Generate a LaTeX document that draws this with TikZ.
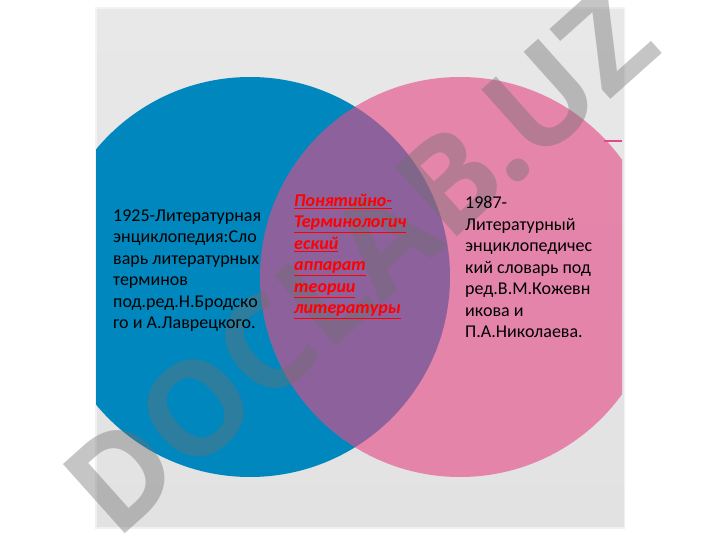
\documentclass[tikz,border=0pt]{standalone}
\usepackage{fontspec}
\setmainfont{Carlito}
\newfontfamily\markfont{Open Sans}
\usetikzlibrary{positioning}
\definecolor{panelgray}{RGB}{226,226,226}
\definecolor{paneltop}{RGB}{232,232,232}
\definecolor{circblue}{RGB}{0,136,190}
\definecolor{circpink}{RGB}{229,74,134}
\definecolor{marktone}{RGB}{110,110,110}

\begin{document}
\begin{tikzpicture}[x=1pt,y=-1pt,
    body/.style={font=\fontsize{18}{21.5}\selectfont, align=left, anchor=north west, inner sep=0pt},
    keytext/.style={body, text=red, font=\fontsize{18}{21.5}\selectfont\bfseries\itshape}]
  \useasboundingbox (0,0) rectangle (720,540);
  \fill[white] (0,0) rectangle (720,540);
  \shade[top color=paneltop, bottom color=panelgray] (95,8) rectangle (625,528);
  \draw[white, opacity=0.5, line width=3pt] (95,8) rectangle (625,528);

  % two overlapping circles
  \begin{scope}
    \clip (96,9) rectangle (622,527);
    \fill[circblue] (250,277) circle (200pt);
    \fill[circpink, fill opacity=0.62] (460,277) circle (200pt);
  \end{scope}
  \draw[circpink, line width=2pt] (604,141) -- (622,141);

  \node[rotate=41.8, text=marktone, text opacity=0.4, font=\markfont\bfseries\fontsize{130}{130}\selectfont, inner sep=0pt] (mark) at (360,262) {DOCLAB.UZ};

  \node[body] (left) at (113,209.5) {1925-Литературная\\энциклопедия:Сло\\варь литературных\\терминов\\под.ред.Н.Бродско\\го и А.Лаврецкого.};
  \node[keytext] (middle) at (294,194) {\underline{Понятийно-}\\\underline{Терминологич}\\\underline{еский}\\\underline{аппарат}\\\underline{теории}\\\underline{литературы}};
  \node[body] (right) at (465,196.5) {1987-\\Литературный\\энциклопедичес\\кий словарь под\\ред.В.М.Кожевн\\икова и\\П.А.Николаева.};
\end{tikzpicture}
\end{document}
